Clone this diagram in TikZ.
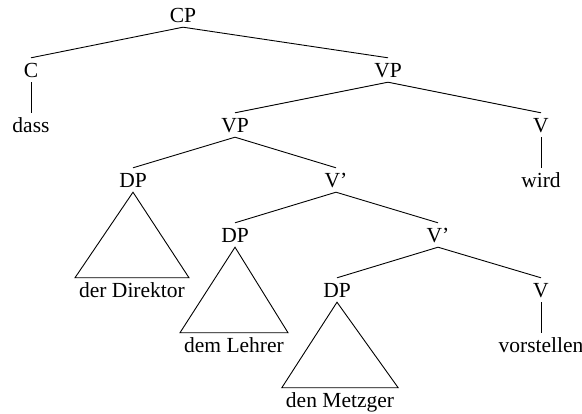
\documentclass[tikz,border=0pt]{standalone}
\usepackage{fontspec}
\setmainfont{Liberation Serif}

\begin{document}
\begin{tikzpicture}[
    x=1pt, y=1pt,
    cat/.style={anchor=base, inner xsep=4pt, inner ysep=4pt, text height=16pt, text depth=0pt, font=\fontsize{21.5}{26}\selectfont},
    branch/.style={line width=0.9pt}
]
\useasboundingbox (0,0) rectangle (582,-414);

% Categories and words, one row per level
\node[cat] (cp) at (183,-23) {CP};
\node[cat] (c) at (31,-78) {C};
\node[cat] (vpa) at (388,-78) {VP};
\node[cat] (dass) at (31,-133) {dass};
\node[cat] (vpb) at (235,-133) {VP};
\node[cat] (va) at (541,-133) {V};
\node[cat] (dpa) at (133,-188) {DP};
\node[cat] (vbara) at (336,-188) {V'};
\node[cat] (wird) at (541,-188) {wird};
\node[cat] (dpb) at (235,-243) {DP};
\node[cat] (vbarb) at (438,-243) {V'};
\node[cat] (direktor) at (132,-298) {der Direktor};
\node[cat] (dpc) at (337,-298) {DP};
\node[cat] (vb) at (541,-298) {V};
\node[cat] (lehrer) at (234,-353) {dem Lehrer};
\node[cat] (vorstellen) at (541,-353) {vorstellen};
\node[cat] (metzger) at (340,-408) {den Metzger};

% Branches
\draw[branch] (cp.south) -- (c.north);
\draw[branch] (cp.south) -- (vpa.north);
\draw[branch] (c.south) -- (dass.north);
\draw[branch] (vpa.south) -- (vpb.north);
\draw[branch] (vpa.south) -- (va.north);
\draw[branch] (va.south) -- (wird.north);
\draw[branch] (vpb.south) -- (dpa.north);
\draw[branch] (vpb.south) -- (vbara.north);
\draw[branch] (vbara.south) -- (dpb.north);
\draw[branch] (vbara.south) -- (vbarb.north);
\draw[branch] (vbarb.south) -- (dpc.north);
\draw[branch] (vbarb.south) -- (vb.north);
\draw[branch] (vb.south) -- (vorstellen.north);

% Triangles
\draw[branch] (dpa.south) -- (direktor.north west) -- (direktor.north east) -- cycle;
\draw[branch] (dpb.south) -- (lehrer.north west) -- (lehrer.north east) -- cycle;
\draw[branch] (dpc.south) -- (metzger.north west) -- (metzger.north east) -- cycle;

\end{tikzpicture}
\end{document}
